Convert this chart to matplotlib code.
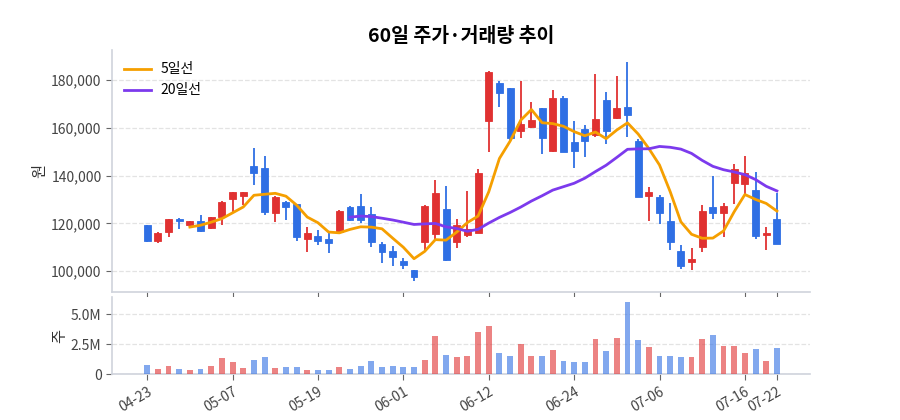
import numpy as np
import pandas as pd
import matplotlib
matplotlib.use('Agg')
import matplotlib.pyplot as plt
from matplotlib.ticker import FuncFormatter

plt.rcParams['font.family'] = ['Noto Sans CJK KR', 'DejaVu Sans']
plt.rcParams['axes.unicode_minus'] = False

# 시가/고가/저가/종가 (원)
opens = [119200, 112700, 116200, 121700, 119200, 120800, 117900, 122800, 130400, 131400,
         144200, 143100, 124200, 129100, 128000, 113400, 114700, 113300, 116500, 126700,
         127300, 123800, 111300, 108500, 104300, 100400, 112300, 115400, 126100, 112300,
         115100, 116100, 163000, 178700, 176600, 158800, 160500, 168200, 150300, 172400,
         154200, 159500, 157000, 171700, 164000, 168600, 154500, 131600, 130900, 121100,
         108400, 103900, 110200, 127000, 124500, 136800, 136400, 134000, 115000, 121700]
highs = [119400, 116300, 121900, 122200, 121000, 123400, 122700, 129300, 133200, 133200,
         151400, 148100, 131300, 129500, 128300, 118600, 117200, 116100, 125500, 127400,
         132500, 126700, 112300, 110500, 105500, 100500, 127500, 138200, 135800, 121800,
         133500, 142800, 183800, 179800, 176800, 179800, 170700, 168400, 175900, 173400,
         163000, 161100, 182500, 174900, 181900, 187600, 155200, 135400, 131900, 128600,
         110900, 109800, 127800, 140000, 128600, 144700, 148100, 141400, 118300, 132800]
lows = [112200, 111900, 114400, 117700, 118600, 116400, 117500, 119300, 124800, 127500,
        136100, 123600, 120600, 121200, 112700, 108000, 110800, 107400, 116300, 121000,
        120300, 110200, 103500, 102100, 100700, 95900, 108500, 113300, 104300, 109500,
        114100, 115800, 150000, 168900, 154900, 155900, 159800, 148900, 150100, 149800,
        143100, 147900, 156300, 153100, 163900, 156300, 130900, 121000, 119700, 108800,
        100800, 100400, 107800, 121800, 114400, 128100, 132300, 113300, 108800, 111200]
closes = [112700, 116100, 121700, 120800, 120800, 116600, 122500, 129100, 133000, 133000,
          141200, 124600, 131100, 127000, 114300, 116100, 112700, 111600, 125300, 121500,
          121600, 112000, 108100, 105700, 102400, 97600, 127300, 132800, 104600, 119300,
          117500, 141000, 183600, 174500, 155600, 161600, 163300, 155900, 172700, 150000,
          150400, 154600, 163700, 158800, 168200, 165400, 131200, 133300, 124200, 112300,
          102200, 105000, 125000, 124500, 127300, 142600, 141000, 114700, 116100, 111300]
# 거래량 (백만 주)
volumes = [0.79, 0.42, 0.70, 0.45, 0.37, 0.45, 0.70, 1.35, 1.01, 0.53,
           1.18, 1.46, 0.53, 0.62, 0.62, 0.37, 0.37, 0.31, 0.59, 0.45,
           0.70, 1.12, 0.62, 0.67, 0.62, 0.62, 1.18, 3.15, 1.60, 1.46,
           1.52, 3.54, 4.04, 1.77, 1.54, 2.47, 1.54, 1.52, 2.02, 1.12,
           1.01, 0.96, 2.89, 1.94, 3.03, 6.01, 2.87, 2.22, 1.52, 1.52,
           1.43, 1.38, 2.95, 3.29, 2.30, 2.33, 1.77, 2.11, 1.12, 2.13]
tick_idx = [0, 8, 16, 24, 32, 40, 48, 56, 59]
tick_labels = ['04-23', '05-07', '05-19', '06-01', '06-12', '06-24', '07-06', '07-16', '07-22']

UP = '#e03131'
DOWN = '#2f6fe4'
GRID = '#e3e3e3'
SPINE = '#cfd3dc'

df = pd.DataFrame({'open': opens, 'high': highs, 'low': lows, 'close': closes,
                   'volume': np.array(volumes) * 1e6})
df['ma5'] = df['close'].rolling(5).mean()
df['ma20'] = df['close'].rolling(20).mean()
x = np.arange(len(df))
colors = [UP if c >= o else DOWN for o, c in zip(df['open'], df['close'])]

fig = plt.figure(figsize=(9, 4.2), dpi=100)
ax = fig.add_axes([0.1244, 0.3048, 0.7756, 0.5762])
axv = fig.add_axes([0.1244, 0.1095, 0.7756, 0.1833], sharex=ax)

# 캔들
ax.vlines(x, df['low'], df['high'], colors=colors, linewidth=1.3, zorder=2)
body_bottom = np.minimum(df['open'], df['close'])
body_h = np.maximum(np.abs(df['close'] - df['open']), 300)
ax.bar(x, body_h, bottom=body_bottom, width=0.65, color=colors,
       edgecolor=colors, linewidth=0.6, zorder=3)

ax.plot(x, df['ma5'], color='#f59f00', linewidth=2, label='5일선', zorder=4)
ax.plot(x, df['ma20'], color='#7c3aed', linewidth=2, label='20일선', zorder=4)

ax.set_ylim(91200, 192700)
ax.set_xlim(-3.3, 62.1)
ax.set_yticks([100000, 120000, 140000, 160000, 180000])
ax.yaxis.set_major_formatter(FuncFormatter(lambda v, p: f'{int(v):,}'))
ax.set_ylabel('원', fontsize=11, color='#333333', labelpad=2)
ax.set_title('60일 주가·거래량 추이', fontsize=14, fontweight='bold', pad=6)
ax.legend(loc='upper left', frameon=False, fontsize=10,
          handlelength=1.9, handletextpad=0.7)
ax.tick_params(axis='x', labelbottom=False)

# 거래량
axv.bar(x, df['volume'], width=0.55, color=colors, alpha=0.6, zorder=3)
axv.set_ylim(0, 6.42e6)
axv.set_yticks([0, 2.5e6, 5.0e6])
axv.yaxis.set_major_formatter(FuncFormatter(lambda v, p: '0' if v == 0 else f'{v / 1e6:.1f}M'))
axv.set_ylabel('주', fontsize=11, color='#333333', labelpad=2)
axv.set_xticks(tick_idx)
axv.set_xticklabels(tick_labels, rotation=30, ha='right', rotation_mode='anchor')

for a in (ax, axv):
    a.grid(axis='y', color=GRID, linestyle='--', linewidth=0.9, zorder=0)
    a.set_axisbelow(True)
    for s in ('top', 'right'):
        a.spines[s].set_visible(False)
    for s in ('left', 'bottom'):
        a.spines[s].set_color(SPINE)
        a.spines[s].set_linewidth(1.2)
    a.tick_params(colors='#444444', labelsize=10, length=4)
    a.tick_params(axis='both', color='#666666')

fig.savefig('out.png', dpi=100)
